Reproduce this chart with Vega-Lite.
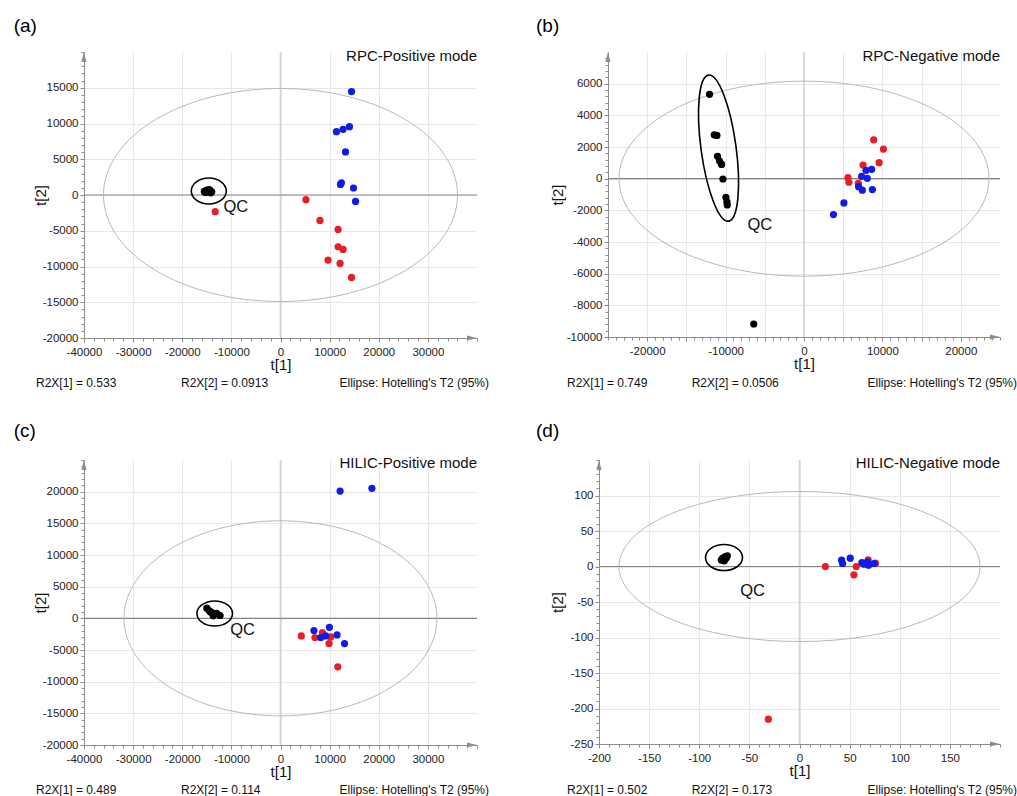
{
  "$schema": "https://vega.github.io/schema/vega-lite/v6.json",
  "background": "white",
  "padding": {"left": 13, "top": 17, "right": 0, "bottom": 0},
  "columns": 2,
  "align": "none",
  "bounds": "full",
  "spacing": {"row": 32, "column": 47},
  "config": {
    "view": {"stroke": null},
    "font": "Liberation Sans",
    "axis": {"gridColor": "#e8e8e8", "gridWidth": 1, "domainColor": "#8c8c8c", "domainWidth": 1, "tickColor": "#8c8c8c", "tickSize": 4, "labelFont": "Liberation Sans", "labelFontSize": 11.5, "labelColor": "#222222", "labelPadding": 2, "labelFlush": false, "labelOverlap": false, "titleFont": "Liberation Sans", "titleFontSize": 15, "titleFontWeight": "normal", "titleColor": "#111111"},
    "axisX": {"labelPadding": 4, "titlePadding": 0},
    "axisY": {"titlePadding": 4},
    "title": {"font": "Liberation Sans", "fontSize": 19, "fontWeight": "normal", "color": "#000000", "anchor": "start", "frame": "group", "baseline": "alphabetic", "offset": 13},
    "text": {"font": "Liberation Sans", "color": "#111111"}
  },
  "datasets": {
    "a": [
      {"t1": -15500, "t2": 500, "group": "QC"}, {"t1": -15100, "t2": 650, "group": "QC"}, {"t1": -14700, "t2": 450, "group": "QC"}, {"t1": -14300, "t2": 600, "group": "QC"}, {"t1": -14000, "t2": 450, "group": "QC"}, {"t1": -14900, "t2": 700, "group": "QC"}, {"t1": -15300, "t2": 350, "group": "QC"}, {"t1": -14500, "t2": 750, "group": "QC"}, {"t1": -14200, "t2": 300, "group": "QC"},
      {"t1": 5180, "t2": -660, "group": "Group 1"}, {"t1": 8040, "t2": -3550, "group": "Group 1"}, {"t1": 11720, "t2": -4810, "group": "Group 1"}, {"t1": 11720, "t2": -7240, "group": "Group 1"}, {"t1": 12740, "t2": -7610, "group": "Group 1"}, {"t1": 9680, "t2": -9100, "group": "Group 1"}, {"t1": 12130, "t2": -9570, "group": "Group 1"}, {"t1": 14460, "t2": -11530, "group": "Group 1"}, {"t1": -13290, "t2": -2330, "group": "Group 1"},
      {"t1": 14460, "t2": 14460, "group": "Group 2"}, {"t1": 11390, "t2": 8860, "group": "Group 2"}, {"t1": 12740, "t2": 9180, "group": "Group 2"}, {"t1": 14040, "t2": 9560, "group": "Group 2"}, {"t1": 13230, "t2": 6020, "group": "Group 2"}, {"t1": 12210, "t2": 1480, "group": "Group 2"}, {"t1": 12400, "t2": 1700, "group": "Group 2"}, {"t1": 14860, "t2": 980, "group": "Group 2"}, {"t1": 15270, "t2": -900, "group": "Group 2"}
    ],
    "b": [
      {"t1": -12050, "t2": 5330, "group": "QC"}, {"t1": -11450, "t2": 2770, "group": "QC"}, {"t1": -11110, "t2": 2730, "group": "QC"}, {"t1": -11030, "t2": 1410, "group": "QC"}, {"t1": -10770, "t2": 1110, "group": "QC"}, {"t1": -10510, "t2": 900, "group": "QC"}, {"t1": -10340, "t2": -20, "group": "QC"}, {"t1": -9960, "t2": -1180, "group": "QC"}, {"t1": -9830, "t2": -1470, "group": "QC"}, {"t1": -9790, "t2": -1660, "group": "QC"}, {"t1": -6410, "t2": -9180, "group": "QC"},
      {"t1": 8885, "t2": 2455, "group": "Group 1"}, {"t1": 10130, "t2": 1870, "group": "Group 1"}, {"t1": 9577, "t2": 1007, "group": "Group 1"}, {"t1": 7526, "t2": 862, "group": "Group 1"}, {"t1": 5603, "t2": 63, "group": "Group 1"}, {"t1": 5731, "t2": -227, "group": "Group 1"}, {"t1": 6923, "t2": -290, "group": "Group 1"},
      {"t1": 8628, "t2": 592, "group": "Group 2"}, {"t1": 7910, "t2": 529, "group": "Group 2"}, {"t1": 7346, "t2": 151, "group": "Group 2"}, {"t1": 8077, "t2": 25, "group": "Group 2"}, {"t1": 6962, "t2": -504, "group": "Group 2"}, {"t1": 7436, "t2": -730, "group": "Group 2"}, {"t1": 8718, "t2": -692, "group": "Group 2"}, {"t1": 5090, "t2": -1530, "group": "Group 2"}, {"t1": 3756, "t2": -2266, "group": "Group 2"}
    ],
    "c": [
      {"t1": -15000, "t2": 1600, "group": "QC"}, {"t1": -14500, "t2": 1200, "group": "QC"}, {"t1": -14000, "t2": 900, "group": "QC"}, {"t1": -13500, "t2": 700, "group": "QC"}, {"t1": -13000, "t2": 800, "group": "QC"}, {"t1": -12300, "t2": 450, "group": "QC"}, {"t1": -13700, "t2": 400, "group": "QC"}, {"t1": -14200, "t2": 1000, "group": "QC"},
      {"t1": 4233, "t2": -2772, "group": "Group 1"}, {"t1": 7014, "t2": -3039, "group": "Group 1"}, {"t1": 8528, "t2": -2252, "group": "Group 1"}, {"t1": 10225, "t2": -2929, "group": "Group 1"}, {"t1": 9877, "t2": -3984, "group": "Group 1"}, {"t1": 11660, "t2": -7660, "group": "Group 1"}, {"t1": 8800, "t2": -2700, "group": "Group 1"},
      {"t1": 12130, "t2": 20100, "group": "Group 2"}, {"t1": 18610, "t2": 20530, "group": "Group 2"}, {"t1": 6810, "t2": -1937, "group": "Group 2"}, {"t1": 9959, "t2": -1417, "group": "Group 2"}, {"t1": 11513, "t2": -2614, "group": "Group 2"}, {"t1": 13027, "t2": -3984, "group": "Group 2"}, {"t1": 8180, "t2": -3039, "group": "Group 2"}, {"t1": 9202, "t2": -2772, "group": "Group 2"}
    ],
    "d": [
      {"t1": -78, "t2": 9, "group": "QC"}, {"t1": -76, "t2": 12, "group": "QC"}, {"t1": -74, "t2": 14, "group": "QC"}, {"t1": -72, "t2": 15, "group": "QC"}, {"t1": -75, "t2": 8, "group": "QC"}, {"t1": -77, "t2": 11, "group": "QC"}, {"t1": -73, "t2": 12, "group": "QC"},
      {"t1": 25.8, "t2": 0, "group": "Group 1"}, {"t1": 56.6, "t2": 0, "group": "Group 1"}, {"t1": 54.3, "t2": -11.7, "group": "Group 1"}, {"t1": 68.5, "t2": 9.3, "group": "Group 1"}, {"t1": 75.8, "t2": 4.7, "group": "Group 1"}, {"t1": -31.1, "t2": -215, "group": "Group 1"},
      {"t1": 42, "t2": 8.9, "group": "Group 2"}, {"t1": 43, "t2": 4.2, "group": "Group 2"}, {"t1": 50.6, "t2": 11.7, "group": "Group 2"}, {"t1": 62.2, "t2": 5.6, "group": "Group 2"}, {"t1": 64.5, "t2": 3.3, "group": "Group 2"}, {"t1": 67.9, "t2": 6.5, "group": "Group 2"}, {"t1": 68.9, "t2": 1.9, "group": "Group 2"}, {"t1": 74.5, "t2": 4.2, "group": "Group 2"}
    ]
  },
  "concat": [
    {
      "width": 393, "height": 286,
      "title": {"text": "(a)", "dx": -70.3, "offset": 12.75},
      "resolve": {"axis": {"x": "independent", "y": "independent"}},
      "layer": [
        {"data": {"values": [{}]}, "mark": {"type": "rule", "color": "#d4d4d4", "strokeWidth": 1.6}, "encoding": {"x": {"datum": 0, "type": "quantitative", "scale": {"domain": [-40000, 40000], "nice": false, "zero": false}, "axis": null}}},
        {"data": {"values": [{}]}, "mark": {"type": "rule", "color": "#858585", "strokeWidth": 1.2}, "encoding": {"y": {"datum": 0, "type": "quantitative", "scale": {"domain": [-20000, 20000], "nice": false, "zero": false}, "axis": null}}},
        {"data": {"values": [{"t1": 0, "t2": 0}]}, "mark": {"type": "point", "shape": "M 1 0 C 1 0.3323 0.5523 0.6017 0 0.6017 C -0.5523 0.6017 -1 0.3323 -1 0 C -1 -0.3323 -0.5523 -0.6017 0 -0.6017 C 0.5523 -0.6017 1 -0.3323 1 0 Z", "size": 125316, "filled": false, "stroke": "#b8b8b8", "strokeWidth": 1, "opacity": 1}, "encoding": {"x": {"field": "t1", "type": "quantitative", "scale": {"domain": [-40000, 40000], "nice": false, "zero": false}, "axis": null}, "y": {"field": "t2", "type": "quantitative", "scale": {"domain": [-20000, 20000], "nice": false, "zero": false}, "axis": null}}},
        {"data": {"values": [{"t1": -14600, "t2": 560}]}, "mark": {"type": "point", "shape": "M 1 0 C 1 0.4104 0.5523 0.743 0 0.743 C -0.5523 0.743 -1 0.4104 -1 0 C -1 -0.4104 -0.5523 -0.743 0 -0.743 C 0.5523 -0.743 1 -0.4104 1 0 Z", "size": 1225, "filled": false, "stroke": "#000000", "strokeWidth": 1.6, "opacity": 1}, "encoding": {"x": {"field": "t1", "type": "quantitative", "scale": {"domain": [-40000, 40000], "nice": false, "zero": false}, "axis": null}, "y": {"field": "t2", "type": "quantitative", "scale": {"domain": [-20000, 20000], "nice": false, "zero": false}, "axis": null}}},
        {"data": {"name": "a"}, "mark": {"type": "circle", "size": 52, "opacity": 1}, "encoding": {
          "x": {"field": "t1", "type": "quantitative", "scale": {"domain": [-40000, 40000], "nice": false, "zero": false}, "axis": {"values": [-40000, -30000, -20000, -10000, 0, 10000, 20000, 30000], "title": "t[1]", "grid": true, "labelExpr": "'' + datum.value"}},
          "y": {"field": "t2", "type": "quantitative", "scale": {"domain": [-20000, 20000], "nice": false, "zero": false}, "axis": {"values": [-20000, -15000, -10000, -5000, 0, 5000, 10000, 15000], "title": "t[2]", "grid": true, "minExtent": 32, "maxExtent": 32, "labelExpr": "'' + datum.value"}},
          "color": {"field": "group", "type": "nominal", "scale": {"domain": ["QC", "Group 1", "Group 2"], "range": ["#000000", "#ea1c24", "#0f1be8"]}, "legend": null}}},
        {"data": {"values": [{}]}, "mark": {"type": "point", "shape": "M 0 0 L -2 -0.5 L -2 0.5 Z", "size": 100, "filled": true, "color": "#8c8c8c", "opacity": 1}, "encoding": {"x": {"datum": 40000, "type": "quantitative", "scale": {"domain": [-40000, 40000], "nice": false, "zero": false}, "axis": {"orient": "bottom", "tickCount": 40, "labels": false, "grid": false, "domain": false, "tickSize": 3, "title": null}}, "y": {"datum": -20000, "type": "quantitative", "scale": {"domain": [-20000, 20000], "nice": false, "zero": false}, "axis": null}}},
        {"data": {"values": [{}]}, "mark": {"type": "point", "shape": "M 0 0 L -0.5 2 L 0.5 2 Z", "size": 100, "filled": true, "color": "#8c8c8c", "opacity": 1}, "encoding": {"x": {"datum": -40000, "type": "quantitative", "scale": {"domain": [-40000, 40000], "nice": false, "zero": false}, "axis": null}, "y": {"datum": 20000, "type": "quantitative", "scale": {"domain": [-20000, 20000], "nice": false, "zero": false}, "axis": {"orient": "left", "tickCount": 40, "labels": false, "grid": false, "domain": false, "tickSize": 3, "title": null}}}},
        {"data": {"values": [{"t1": -11600, "t2": -1650, "label": "QC"}]}, "mark": {"type": "text", "align": "left", "baseline": "middle", "fontSize": 16.5}, "encoding": {"x": {"field": "t1", "type": "quantitative", "scale": {"domain": [-40000, 40000], "nice": false, "zero": false}, "axis": null}, "y": {"field": "t2", "type": "quantitative", "scale": {"domain": [-20000, 20000], "nice": false, "zero": false}, "axis": null}, "text": {"field": "label"}}},
        {"data": {"values": [{}]}, "mark": {"type": "text", "align": "right", "baseline": "alphabetic", "dy": 9, "fontSize": 15}, "encoding": {"x": {"datum": 40000, "type": "quantitative", "scale": {"domain": [-40000, 40000], "nice": false, "zero": false}, "axis": null}, "y": {"datum": 20000, "type": "quantitative", "scale": {"domain": [-20000, 20000], "nice": false, "zero": false}, "axis": null}, "text": {"value": "RPC-Positive mode"}}},
        {"data": {"values": [{}]}, "mark": {"type": "text", "align": "left", "baseline": "middle", "dx": -48, "dy": 45.3, "fontSize": 12}, "encoding": {"x": {"datum": -40000, "type": "quantitative", "scale": {"domain": [-40000, 40000], "nice": false, "zero": false}, "axis": null}, "y": {"datum": -20000, "type": "quantitative", "scale": {"domain": [-20000, 20000], "nice": false, "zero": false}, "axis": null}, "text": {"value": "R2X[1] = 0.533"}}},
        {"data": {"values": [{}]}, "mark": {"type": "text", "align": "left", "baseline": "middle", "dx": 97, "dy": 45.3, "fontSize": 12}, "encoding": {"x": {"datum": -40000, "type": "quantitative", "scale": {"domain": [-40000, 40000], "nice": false, "zero": false}, "axis": null}, "y": {"datum": -20000, "type": "quantitative", "scale": {"domain": [-20000, 20000], "nice": false, "zero": false}, "axis": null}, "text": {"value": "R2X[2] = 0.0913"}}},
        {"data": {"values": [{}]}, "mark": {"type": "text", "align": "right", "baseline": "middle", "dx": 12, "dy": 45.3, "fontSize": 12}, "encoding": {"x": {"datum": 40000, "type": "quantitative", "scale": {"domain": [-40000, 40000], "nice": false, "zero": false}, "axis": null}, "y": {"datum": -20000, "type": "quantitative", "scale": {"domain": [-20000, 20000], "nice": false, "zero": false}, "axis": null}, "text": {"value": "Ellipse: Hotelling's T2 (95%)"}}}
      ]
    },
    {
      "width": 392, "height": 285,
      "title": {"text": "(b)", "dx": -72, "offset": 12.75},
      "resolve": {"axis": {"x": "independent", "y": "independent"}},
      "layer": [
        {"data": {"values": [{}]}, "mark": {"type": "rule", "color": "#d4d4d4", "strokeWidth": 1.6}, "encoding": {"x": {"datum": 0, "type": "quantitative", "scale": {"domain": [-25000, 25000], "nice": false, "zero": false}, "axis": null}}},
        {"data": {"values": [{}]}, "mark": {"type": "rule", "color": "#858585", "strokeWidth": 1.2}, "encoding": {"y": {"datum": 0, "type": "quantitative", "scale": {"domain": [-10000, 8000], "nice": false, "zero": false}, "axis": null}}},
        {"data": {"values": [{"t1": 0, "t2": 0}]}, "mark": {"type": "point", "shape": "M 1 0 C 1 0.2911 0.5523 0.527 0 0.527 C -0.5523 0.527 -1 0.2911 -1 0 C -1 -0.2911 -0.5523 -0.527 0 -0.527 C 0.5523 -0.527 1 -0.2911 1 0 Z", "size": 136900, "filled": false, "stroke": "#b8b8b8", "strokeWidth": 1, "opacity": 1}, "encoding": {"x": {"field": "t1", "type": "quantitative", "scale": {"domain": [-25000, 25000], "nice": false, "zero": false}, "axis": null}, "y": {"field": "t2", "type": "quantitative", "scale": {"domain": [-10000, 8000], "nice": false, "zero": false}, "axis": null}}},
        {"data": {"values": [{"t1": -10900, "t2": 1930}]}, "mark": {"type": "point", "shape": "M 0.2375 0 C 0.2375 0.5523 0.1312 1 0 1 C -0.1312 1 -0.2375 0.5523 -0.2375 0 C -0.2375 -0.5523 -0.1312 -1 0 -1 C 0.1312 -1 0.2375 -0.5523 0.2375 0 Z", "size": 21727, "angle": 352.2, "filled": false, "stroke": "#000000", "strokeWidth": 1.6, "opacity": 1}, "encoding": {"x": {"field": "t1", "type": "quantitative", "scale": {"domain": [-25000, 25000], "nice": false, "zero": false}, "axis": null}, "y": {"field": "t2", "type": "quantitative", "scale": {"domain": [-10000, 8000], "nice": false, "zero": false}, "axis": null}}},
        {"data": {"name": "b"}, "mark": {"type": "circle", "size": 52, "opacity": 1}, "encoding": {
          "x": {"field": "t1", "type": "quantitative", "scale": {"domain": [-25000, 25000], "nice": false, "zero": false}, "axis": {"values": [-20000, -15000, -10000, -5000, 0, 5000, 10000, 15000, 20000], "title": "t[1]", "grid": true, "labelExpr": "datum.value % 10000 === 0 ? '' + datum.value : ''"}},
          "y": {"field": "t2", "type": "quantitative", "scale": {"domain": [-10000, 8000], "nice": false, "zero": false}, "axis": {"values": [-10000, -8000, -6000, -4000, -2000, 0, 2000, 4000, 6000], "title": "t[2]", "grid": true, "minExtent": 39, "maxExtent": 39, "labelExpr": "'' + datum.value"}},
          "color": {"field": "group", "type": "nominal", "scale": {"domain": ["QC", "Group 1", "Group 2"], "range": ["#000000", "#ea1c24", "#0f1be8"]}, "legend": null}}},
        {"data": {"values": [{}]}, "mark": {"type": "point", "shape": "M 0 0 L -2 -0.5 L -2 0.5 Z", "size": 100, "filled": true, "color": "#8c8c8c", "opacity": 1}, "encoding": {"x": {"datum": 25000, "type": "quantitative", "scale": {"domain": [-25000, 25000], "nice": false, "zero": false}, "axis": {"orient": "bottom", "tickCount": 50, "labels": false, "grid": false, "domain": false, "tickSize": 3, "title": null}}, "y": {"datum": -10000, "type": "quantitative", "scale": {"domain": [-10000, 8000], "nice": false, "zero": false}, "axis": null}}},
        {"data": {"values": [{}]}, "mark": {"type": "point", "shape": "M 0 0 L -0.5 2 L 0.5 2 Z", "size": 100, "filled": true, "color": "#8c8c8c", "opacity": 1}, "encoding": {"x": {"datum": -25000, "type": "quantitative", "scale": {"domain": [-25000, 25000], "nice": false, "zero": false}, "axis": null}, "y": {"datum": 8000, "type": "quantitative", "scale": {"domain": [-10000, 8000], "nice": false, "zero": false}, "axis": {"orient": "left", "values": [-10000, -9600, -9200, -8800, -8400, -8000, -7600, -7200, -6800, -6400, -6000, -5600, -5200, -4800, -4400, -4000, -3600, -3200, -2800, -2400, -2000, -1600, -1200, -800, -400, 0, 400, 800, 1200, 1600, 2000, 2400, 2800, 3200, 3600, 4000, 4400, 4800, 5200, 5600, 6000, 6400, 6800, 7200, 7600], "labels": false, "grid": false, "domain": false, "tickSize": 3, "title": null}}}},
        {"data": {"values": [{"t1": -7220, "t2": -2895, "label": "QC"}]}, "mark": {"type": "text", "align": "left", "baseline": "middle", "fontSize": 16.5}, "encoding": {"x": {"field": "t1", "type": "quantitative", "scale": {"domain": [-25000, 25000], "nice": false, "zero": false}, "axis": null}, "y": {"field": "t2", "type": "quantitative", "scale": {"domain": [-10000, 8000], "nice": false, "zero": false}, "axis": null}, "text": {"field": "label"}}},
        {"data": {"values": [{}]}, "mark": {"type": "text", "align": "right", "baseline": "alphabetic", "dy": 9, "fontSize": 15}, "encoding": {"x": {"datum": 25000, "type": "quantitative", "scale": {"domain": [-25000, 25000], "nice": false, "zero": false}, "axis": null}, "y": {"datum": 8000, "type": "quantitative", "scale": {"domain": [-10000, 8000], "nice": false, "zero": false}, "axis": null}, "text": {"value": "RPC-Negative mode"}}},
        {"data": {"values": [{}]}, "mark": {"type": "text", "align": "left", "baseline": "middle", "dx": -41, "dy": 46.3, "fontSize": 12}, "encoding": {"x": {"datum": -25000, "type": "quantitative", "scale": {"domain": [-25000, 25000], "nice": false, "zero": false}, "axis": null}, "y": {"datum": -10000, "type": "quantitative", "scale": {"domain": [-10000, 8000], "nice": false, "zero": false}, "axis": null}, "text": {"value": "R2X[1] = 0.749"}}},
        {"data": {"values": [{}]}, "mark": {"type": "text", "align": "left", "baseline": "middle", "dx": 83.7, "dy": 46.3, "fontSize": 12}, "encoding": {"x": {"datum": -25000, "type": "quantitative", "scale": {"domain": [-25000, 25000], "nice": false, "zero": false}, "axis": null}, "y": {"datum": -10000, "type": "quantitative", "scale": {"domain": [-10000, 8000], "nice": false, "zero": false}, "axis": null}, "text": {"value": "R2X[2] = 0.0506"}}},
        {"data": {"values": [{}]}, "mark": {"type": "text", "align": "right", "baseline": "middle", "dx": 17, "dy": 46.3, "fontSize": 12}, "encoding": {"x": {"datum": 25000, "type": "quantitative", "scale": {"domain": [-25000, 25000], "nice": false, "zero": false}, "axis": null}, "y": {"datum": -10000, "type": "quantitative", "scale": {"domain": [-10000, 8000], "nice": false, "zero": false}, "axis": null}, "text": {"value": "Ellipse: Hotelling's T2 (95%)"}}}
      ]
    },
    {
      "width": 393, "height": 285,
      "title": {"text": "(c)", "dx": -70.3, "offset": 15.2},
      "resolve": {"axis": {"x": "independent", "y": "independent"}},
      "layer": [
        {"data": {"values": [{}]}, "mark": {"type": "rule", "color": "#d4d4d4", "strokeWidth": 1.6}, "encoding": {"x": {"datum": 0, "type": "quantitative", "scale": {"domain": [-40000, 40000], "nice": false, "zero": false}, "axis": null}}},
        {"data": {"values": [{}]}, "mark": {"type": "rule", "color": "#858585", "strokeWidth": 1.2}, "encoding": {"y": {"datum": 0, "type": "quantitative", "scale": {"domain": [-20000, 25000], "nice": false, "zero": false}, "axis": null}}},
        {"data": {"values": [{"t1": 0, "t2": 0}]}, "mark": {"type": "point", "shape": "M 1 0 C 1 0.3441 0.5523 0.623 0 0.623 C -0.5523 0.623 -1 0.3441 -1 0 C -1 -0.3441 -0.5523 -0.623 0 -0.623 C 0.5523 -0.623 1 -0.3441 1 0 Z", "size": 97969, "filled": false, "stroke": "#b8b8b8", "strokeWidth": 1, "opacity": 1}, "encoding": {"x": {"field": "t1", "type": "quantitative", "scale": {"domain": [-40000, 40000], "nice": false, "zero": false}, "axis": null}, "y": {"field": "t2", "type": "quantitative", "scale": {"domain": [-20000, 25000], "nice": false, "zero": false}, "axis": null}}},
        {"data": {"values": [{"t1": -13390, "t2": 770}]}, "mark": {"type": "point", "shape": "M 1 0 C 1 0.3877 0.5523 0.702 0 0.702 C -0.5523 0.702 -1 0.3877 -1 0 C -1 -0.3877 -0.5523 -0.702 0 -0.702 C 0.5523 -0.702 1 -0.3877 1 0 Z", "size": 1267, "filled": false, "stroke": "#000000", "strokeWidth": 1.6, "opacity": 1}, "encoding": {"x": {"field": "t1", "type": "quantitative", "scale": {"domain": [-40000, 40000], "nice": false, "zero": false}, "axis": null}, "y": {"field": "t2", "type": "quantitative", "scale": {"domain": [-20000, 25000], "nice": false, "zero": false}, "axis": null}}},
        {"data": {"name": "c"}, "mark": {"type": "circle", "size": 52, "opacity": 1}, "encoding": {
          "x": {"field": "t1", "type": "quantitative", "scale": {"domain": [-40000, 40000], "nice": false, "zero": false}, "axis": {"values": [-40000, -30000, -20000, -10000, 0, 10000, 20000, 30000], "title": "t[1]", "grid": true, "labelExpr": "'' + datum.value"}},
          "y": {"field": "t2", "type": "quantitative", "scale": {"domain": [-20000, 25000], "nice": false, "zero": false}, "axis": {"values": [-20000, -15000, -10000, -5000, 0, 5000, 10000, 15000, 20000], "title": "t[2]", "grid": true, "minExtent": 32, "maxExtent": 32, "labelExpr": "'' + datum.value"}},
          "color": {"field": "group", "type": "nominal", "scale": {"domain": ["QC", "Group 1", "Group 2"], "range": ["#000000", "#ea1c24", "#0f1be8"]}, "legend": null}}},
        {"data": {"values": [{}]}, "mark": {"type": "point", "shape": "M 0 0 L -2 -0.5 L -2 0.5 Z", "size": 100, "filled": true, "color": "#8c8c8c", "opacity": 1}, "encoding": {"x": {"datum": 40000, "type": "quantitative", "scale": {"domain": [-40000, 40000], "nice": false, "zero": false}, "axis": {"orient": "bottom", "tickCount": 40, "labels": false, "grid": false, "domain": false, "tickSize": 3, "title": null}}, "y": {"datum": -20000, "type": "quantitative", "scale": {"domain": [-20000, 25000], "nice": false, "zero": false}, "axis": null}}},
        {"data": {"values": [{}]}, "mark": {"type": "point", "shape": "M 0 0 L -0.5 2 L 0.5 2 Z", "size": 100, "filled": true, "color": "#8c8c8c", "opacity": 1}, "encoding": {"x": {"datum": -40000, "type": "quantitative", "scale": {"domain": [-40000, 40000], "nice": false, "zero": false}, "axis": null}, "y": {"datum": 25000, "type": "quantitative", "scale": {"domain": [-20000, 25000], "nice": false, "zero": false}, "axis": {"orient": "left", "tickCount": 45, "labels": false, "grid": false, "domain": false, "tickSize": 3, "title": null}}}},
        {"data": {"values": [{"t1": -10225, "t2": -1780, "label": "QC"}]}, "mark": {"type": "text", "align": "left", "baseline": "middle", "fontSize": 16.5}, "encoding": {"x": {"field": "t1", "type": "quantitative", "scale": {"domain": [-40000, 40000], "nice": false, "zero": false}, "axis": null}, "y": {"field": "t2", "type": "quantitative", "scale": {"domain": [-20000, 25000], "nice": false, "zero": false}, "axis": null}, "text": {"field": "label"}}},
        {"data": {"values": [{}]}, "mark": {"type": "text", "align": "right", "baseline": "alphabetic", "dy": 8.3, "fontSize": 15}, "encoding": {"x": {"datum": 40000, "type": "quantitative", "scale": {"domain": [-40000, 40000], "nice": false, "zero": false}, "axis": null}, "y": {"datum": 25000, "type": "quantitative", "scale": {"domain": [-20000, 25000], "nice": false, "zero": false}, "axis": null}, "text": {"value": "HILIC-Positive mode"}}},
        {"data": {"values": [{}]}, "mark": {"type": "text", "align": "left", "baseline": "middle", "dx": -48, "dy": 45.3, "fontSize": 12}, "encoding": {"x": {"datum": -40000, "type": "quantitative", "scale": {"domain": [-40000, 40000], "nice": false, "zero": false}, "axis": null}, "y": {"datum": -20000, "type": "quantitative", "scale": {"domain": [-20000, 25000], "nice": false, "zero": false}, "axis": null}, "text": {"value": "R2X[1] = 0.489"}}},
        {"data": {"values": [{}]}, "mark": {"type": "text", "align": "left", "baseline": "middle", "dx": 97, "dy": 45.3, "fontSize": 12}, "encoding": {"x": {"datum": -40000, "type": "quantitative", "scale": {"domain": [-40000, 40000], "nice": false, "zero": false}, "axis": null}, "y": {"datum": -20000, "type": "quantitative", "scale": {"domain": [-20000, 25000], "nice": false, "zero": false}, "axis": null}, "text": {"value": "R2X[2] = 0.114"}}},
        {"data": {"values": [{}]}, "mark": {"type": "text", "align": "right", "baseline": "middle", "dx": 12, "dy": 45.3, "fontSize": 12}, "encoding": {"x": {"datum": 40000, "type": "quantitative", "scale": {"domain": [-40000, 40000], "nice": false, "zero": false}, "axis": null}, "y": {"datum": -20000, "type": "quantitative", "scale": {"domain": [-20000, 25000], "nice": false, "zero": false}, "axis": null}, "text": {"value": "Ellipse: Hotelling's T2 (95%)"}}}
      ]
    },
    {
      "width": 401, "height": 284,
      "title": {"text": "(d)", "dx": -63, "offset": 15.2},
      "resolve": {"axis": {"x": "independent", "y": "independent"}},
      "layer": [
        {"data": {"values": [{}]}, "mark": {"type": "rule", "color": "#d4d4d4", "strokeWidth": 1.6}, "encoding": {"x": {"datum": 0, "type": "quantitative", "scale": {"domain": [-200, 200], "nice": false, "zero": false}, "axis": null}}},
        {"data": {"values": [{}]}, "mark": {"type": "rule", "color": "#858585", "strokeWidth": 1.2}, "encoding": {"y": {"datum": 0, "type": "quantitative", "scale": {"domain": [-250, 150], "nice": false, "zero": false}, "axis": null}}},
        {"data": {"values": [{"t1": 0, "t2": 0}]}, "mark": {"type": "point", "shape": "M 1 0 C 1 0.2295 0.5523 0.4155 0 0.4155 C -0.5523 0.4155 -1 0.2295 -1 0 C -1 -0.2295 -0.5523 -0.4155 0 -0.4155 C 0.5523 -0.4155 1 -0.2295 1 0 Z", "size": 130321, "filled": false, "stroke": "#b8b8b8", "strokeWidth": 1, "opacity": 1}, "encoding": {"x": {"field": "t1", "type": "quantitative", "scale": {"domain": [-200, 200], "nice": false, "zero": false}, "axis": null}, "y": {"field": "t2", "type": "quantitative", "scale": {"domain": [-250, 150], "nice": false, "zero": false}, "axis": null}}},
        {"data": {"values": [{"t1": -75.3, "t2": 12.6}]}, "mark": {"type": "point", "shape": "M 1 0 C 1 0.3883 0.5523 0.703 0 0.703 C -0.5523 0.703 -1 0.3883 -1 0 C -1 -0.3883 -0.5523 -0.703 0 -0.703 C 0.5523 -0.703 1 -0.3883 1 0 Z", "size": 1369, "filled": false, "stroke": "#000000", "strokeWidth": 1.6, "opacity": 1}, "encoding": {"x": {"field": "t1", "type": "quantitative", "scale": {"domain": [-200, 200], "nice": false, "zero": false}, "axis": null}, "y": {"field": "t2", "type": "quantitative", "scale": {"domain": [-250, 150], "nice": false, "zero": false}, "axis": null}}},
        {"data": {"name": "d"}, "mark": {"type": "circle", "size": 52, "opacity": 1}, "encoding": {
          "x": {"field": "t1", "type": "quantitative", "scale": {"domain": [-200, 200], "nice": false, "zero": false}, "axis": {"values": [-200, -150, -100, -50, 0, 50, 100, 150], "title": "t[1]", "grid": true, "labelExpr": "'' + datum.value"}},
          "y": {"field": "t2", "type": "quantitative", "scale": {"domain": [-250, 150], "nice": false, "zero": false}, "axis": {"values": [-250, -200, -150, -100, -50, 0, 50, 100], "title": "t[2]", "grid": true, "minExtent": 30, "maxExtent": 30, "labelExpr": "'' + datum.value"}},
          "color": {"field": "group", "type": "nominal", "scale": {"domain": ["QC", "Group 1", "Group 2"], "range": ["#000000", "#ea1c24", "#3d6fe8"]}, "legend": null}}},
        {"data": {"values": [{}]}, "mark": {"type": "point", "shape": "M 0 0 L -2 -0.5 L -2 0.5 Z", "size": 100, "filled": true, "color": "#8c8c8c", "opacity": 1}, "encoding": {"x": {"datum": 200, "type": "quantitative", "scale": {"domain": [-200, 200], "nice": false, "zero": false}, "axis": {"orient": "bottom", "tickCount": 40, "labels": false, "grid": false, "domain": false, "tickSize": 3, "title": null}}, "y": {"datum": -250, "type": "quantitative", "scale": {"domain": [-250, 150], "nice": false, "zero": false}, "axis": null}}},
        {"data": {"values": [{}]}, "mark": {"type": "point", "shape": "M 0 0 L -0.5 2 L 0.5 2 Z", "size": 100, "filled": true, "color": "#8c8c8c", "opacity": 1}, "encoding": {"x": {"datum": -200, "type": "quantitative", "scale": {"domain": [-200, 200], "nice": false, "zero": false}, "axis": null}, "y": {"datum": 150, "type": "quantitative", "scale": {"domain": [-250, 150], "nice": false, "zero": false}, "axis": {"orient": "left", "tickCount": 40, "labels": false, "grid": false, "domain": false, "tickSize": 3, "title": null}}}},
        {"data": {"values": [{"t1": -59.2, "t2": -34.2, "label": "QC"}]}, "mark": {"type": "text", "align": "left", "baseline": "middle", "fontSize": 16.5}, "encoding": {"x": {"field": "t1", "type": "quantitative", "scale": {"domain": [-200, 200], "nice": false, "zero": false}, "axis": null}, "y": {"field": "t2", "type": "quantitative", "scale": {"domain": [-250, 150], "nice": false, "zero": false}, "axis": null}, "text": {"field": "label"}}},
        {"data": {"values": [{}]}, "mark": {"type": "text", "align": "right", "baseline": "alphabetic", "dy": 8.3, "fontSize": 15}, "encoding": {"x": {"datum": 200, "type": "quantitative", "scale": {"domain": [-200, 200], "nice": false, "zero": false}, "axis": null}, "y": {"datum": 150, "type": "quantitative", "scale": {"domain": [-250, 150], "nice": false, "zero": false}, "axis": null}, "text": {"value": "HILIC-Negative mode"}}},
        {"data": {"values": [{}]}, "mark": {"type": "text", "align": "left", "baseline": "middle", "dx": -32, "dy": 46.3, "fontSize": 12}, "encoding": {"x": {"datum": -200, "type": "quantitative", "scale": {"domain": [-200, 200], "nice": false, "zero": false}, "axis": null}, "y": {"datum": -250, "type": "quantitative", "scale": {"domain": [-250, 150], "nice": false, "zero": false}, "axis": null}, "text": {"value": "R2X[1] = 0.502"}}},
        {"data": {"values": [{}]}, "mark": {"type": "text", "align": "left", "baseline": "middle", "dx": 92.7, "dy": 46.3, "fontSize": 12}, "encoding": {"x": {"datum": -200, "type": "quantitative", "scale": {"domain": [-200, 200], "nice": false, "zero": false}, "axis": null}, "y": {"datum": -250, "type": "quantitative", "scale": {"domain": [-250, 150], "nice": false, "zero": false}, "axis": null}, "text": {"value": "R2X[2] = 0.173"}}},
        {"data": {"values": [{}]}, "mark": {"type": "text", "align": "right", "baseline": "middle", "dx": 17, "dy": 46.3, "fontSize": 12}, "encoding": {"x": {"datum": 200, "type": "quantitative", "scale": {"domain": [-200, 200], "nice": false, "zero": false}, "axis": null}, "y": {"datum": -250, "type": "quantitative", "scale": {"domain": [-250, 150], "nice": false, "zero": false}, "axis": null}, "text": {"value": "Ellipse: Hotelling's T2 (95%)"}}}
      ]
    }
  ]
}
